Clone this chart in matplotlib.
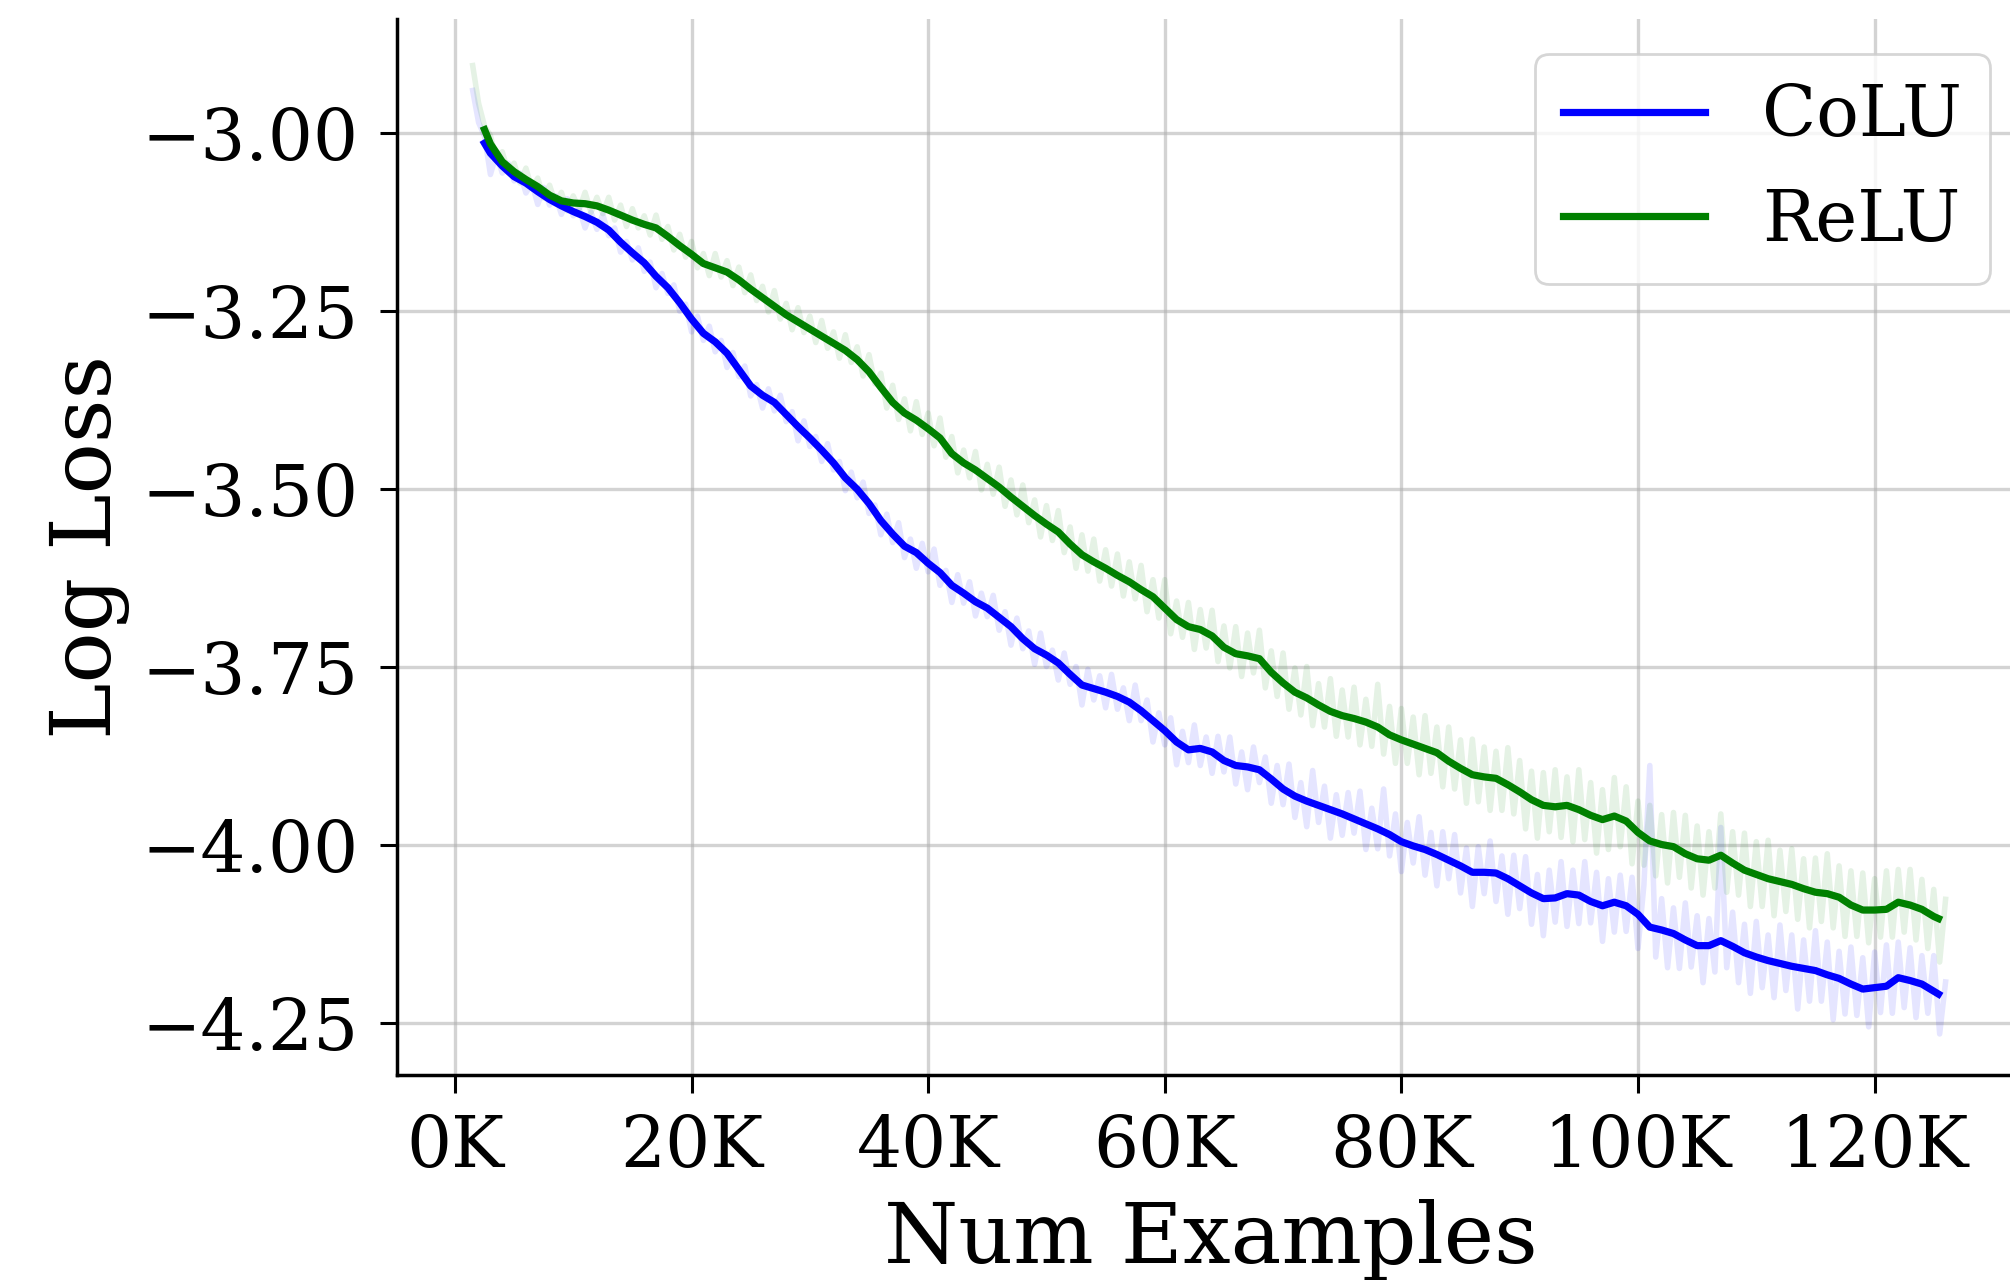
#%%############################################################################
# Log loss vs number of training examples, CoLU vs ReLU
###############################################################################
import matplotlib
matplotlib.use('Agg')
import matplotlib.pyplot as plt
from matplotlib.ticker import FuncFormatter
import numpy as np

#%%############################################################################
# Data
###############################################################################
# smoothed curves, x in thousands of examples
smooth_k = [2.5] + list(range(3, 126)) + [125.4]

colu_smooth = [-3.014,
    -3.028, -3.046, -3.061, -3.070, -3.082, -3.093, -3.102, -3.110, -3.117, -3.125,
    -3.136, -3.153, -3.168, -3.182, -3.201, -3.217, -3.238, -3.261, -3.281, -3.293,
    -3.309, -3.332, -3.355, -3.368, -3.378, -3.395, -3.412, -3.428, -3.445, -3.463,
    -3.484, -3.500, -3.520, -3.544, -3.563, -3.580, -3.589, -3.604, -3.617, -3.635,
    -3.646, -3.658, -3.667, -3.680, -3.693, -3.710, -3.724, -3.733, -3.744, -3.760,
    -3.775, -3.780, -3.785, -3.791, -3.799, -3.811, -3.825, -3.839, -3.855, -3.866,
    -3.864, -3.869, -3.881, -3.888, -3.890, -3.894, -3.907, -3.921, -3.931, -3.938,
    -3.944, -3.950, -3.956, -3.963, -3.970, -3.977, -3.985, -3.995, -4.001, -4.006,
    -4.013, -4.021, -4.029, -4.038, -4.038, -4.039, -4.047, -4.057, -4.067, -4.075,
    -4.074, -4.068, -4.070, -4.079, -4.085, -4.080, -4.085, -4.097, -4.115, -4.119,
    -4.124, -4.133, -4.141, -4.141, -4.134, -4.142, -4.151, -4.157, -4.162, -4.166,
    -4.170, -4.173, -4.176, -4.182, -4.187, -4.195, -4.202, -4.200, -4.198, -4.186,
    -4.190, -4.195, -4.205,
    -4.209]

relu_smooth = [-2.995,
    -3.015, -3.040, -3.054, -3.065, -3.075, -3.087, -3.095, -3.098, -3.099, -3.102,
    -3.108, -3.115, -3.122, -3.128, -3.133, -3.145, -3.158, -3.170, -3.183, -3.189,
    -3.195, -3.206, -3.219, -3.231, -3.243, -3.255, -3.265, -3.275, -3.285, -3.295,
    -3.305, -3.318, -3.335, -3.357, -3.378, -3.393, -3.403, -3.415, -3.428, -3.450,
    -3.463, -3.473, -3.485, -3.497, -3.511, -3.524, -3.537, -3.549, -3.560, -3.577,
    -3.592, -3.602, -3.611, -3.621, -3.630, -3.641, -3.651, -3.667, -3.683, -3.693,
    -3.697, -3.706, -3.722, -3.731, -3.734, -3.738, -3.757, -3.772, -3.785, -3.793,
    -3.803, -3.812, -3.818, -3.822, -3.827, -3.834, -3.845, -3.852, -3.858, -3.864,
    -3.870, -3.882, -3.892, -3.901, -3.904, -3.906, -3.915, -3.925, -3.936, -3.944,
    -3.946, -3.944, -3.950, -3.958, -3.964, -3.959, -3.966, -3.982, -3.994, -3.999,
    -4.002, -4.012, -4.019, -4.021, -4.014, -4.025, -4.035, -4.041, -4.047, -4.051,
    -4.055, -4.061, -4.066, -4.068, -4.073, -4.084, -4.091, -4.091, -4.090, -4.080,
    -4.084, -4.090, -4.100,
    -4.103]

# raw (unsmoothed) losses, logged every 500 examples from 1.5K to 126K
raw_k = np.arange(1.5, 126.01, 0.5)

colu_raw = [
    -2.940, -2.985, -3.004, -3.058, -3.029, -3.056, -3.042, -3.067, -3.056, -3.084,
    -3.070, -3.100, -3.076, -3.101, -3.088, -3.114, -3.092, -3.116, -3.106, -3.133,
    -3.111, -3.135, -3.114, -3.144, -3.133, -3.167, -3.152, -3.178, -3.161, -3.194,
    -3.181, -3.217, -3.197, -3.225, -3.213, -3.250, -3.240, -3.279, -3.257, -3.291,
    -3.271, -3.307, -3.291, -3.329, -3.308, -3.342, -3.327, -3.369, -3.353, -3.386,
    -3.359, -3.390, -3.368, -3.405, -3.391, -3.432, -3.404, -3.440, -3.426, -3.461,
    -3.436, -3.473, -3.461, -3.502, -3.476, -3.512, -3.490, -3.534, -3.522, -3.564,
    -3.535, -3.575, -3.547, -3.596, -3.570, -3.611, -3.576, -3.616, -3.584, -3.635,
    -3.614, -3.659, -3.620, -3.660, -3.630, -3.678, -3.646, -3.679, -3.649, -3.698,
    -3.672, -3.719, -3.681, -3.724, -3.699, -3.746, -3.702, -3.749, -3.726, -3.768,
    -3.730, -3.774, -3.749, -3.803, -3.753, -3.796, -3.762, -3.807, -3.760, -3.809,
    -3.779, -3.825, -3.775, -3.825, -3.796, -3.855, -3.814, -3.859, -3.821, -3.887,
    -3.840, -3.884, -3.831, -3.888, -3.848, -3.899, -3.847, -3.897, -3.848, -3.914,
    -3.869, -3.922, -3.862, -3.912, -3.876, -3.941, -3.888, -3.943, -3.886, -3.961,
    -3.912, -3.974, -3.895, -3.968, -3.917, -3.990, -3.929, -3.986, -3.926, -3.983,
    -3.924, -4.006, -3.948, -4.005, -3.921, -4.015, -3.956, -4.037, -3.968, -4.025,
    -3.960, -4.042, -3.982, -4.057, -3.981, -4.047, -3.985, -4.067, -4.004, -4.086,
    -4.002, -4.068, -3.994, -4.079, -4.015, -4.097, -4.014, -4.089, -4.016, -4.111,
    -4.041, -4.127, -4.035, -4.108, -4.023, -4.114, -4.035, -4.110, -4.023, -4.109,
    -4.038, -4.135, -4.047, -4.122, -4.042, -4.121, -4.045, -4.145, -4.056, -3.888,
    -4.157, -4.075, -4.172, -4.088, -4.173, -4.081, -4.171, -4.099, -4.193, -4.103,
    -4.178, -3.975, -4.172, -4.094, -4.193, -4.111, -4.208, -4.107, -4.200, -4.126,
    -4.214, -4.112, -4.204, -4.126, -4.230, -4.133, -4.219, -4.120, -4.219, -4.136,
    -4.245, -4.149, -4.237, -4.143, -4.239, -4.158, -4.255, -4.150, -4.235, -4.140,
    -4.236, -4.136, -4.228, -4.144, -4.242, -4.155, -4.236, -4.155, -4.265, -4.192]

relu_raw = [
    -2.905, -2.958, -2.990, -3.003, -3.038, -3.026, -3.055, -3.042, -3.070, -3.049,
    -3.078, -3.063, -3.091, -3.073, -3.099, -3.083, -3.109, -3.088, -3.107, -3.083,
    -3.111, -3.090, -3.113, -3.090, -3.122, -3.101, -3.131, -3.106, -3.133, -3.116,
    -3.143, -3.115, -3.149, -3.131, -3.164, -3.142, -3.174, -3.152, -3.189, -3.169,
    -3.200, -3.169, -3.202, -3.179, -3.214, -3.188, -3.224, -3.199, -3.235, -3.215,
    -3.251, -3.221, -3.261, -3.239, -3.276, -3.245, -3.280, -3.257, -3.294, -3.263,
    -3.302, -3.279, -3.316, -3.283, -3.322, -3.300, -3.341, -3.311, -3.352, -3.337,
    -3.386, -3.354, -3.402, -3.373, -3.418, -3.377, -3.423, -3.393, -3.439, -3.400,
    -3.455, -3.426, -3.477, -3.445, -3.484, -3.447, -3.501, -3.465, -3.507, -3.469,
    -3.524, -3.487, -3.536, -3.494, -3.547, -3.515, -3.567, -3.523, -3.572, -3.530,
    -3.589, -3.553, -3.611, -3.564, -3.615, -3.570, -3.629, -3.585, -3.636, -3.591,
    -3.650, -3.602, -3.654, -3.607, -3.672, -3.627, -3.681, -3.627, -3.703, -3.657,
    -3.708, -3.659, -3.725, -3.669, -3.723, -3.670, -3.742, -3.692, -3.751, -3.693,
    -3.763, -3.702, -3.758, -3.698, -3.779, -3.727, -3.791, -3.730, -3.809, -3.751,
    -3.817, -3.749, -3.832, -3.773, -3.834, -3.766, -3.847, -3.782, -3.848, -3.778,
    -3.859, -3.795, -3.861, -3.774, -3.872, -3.805, -3.885, -3.808, -3.885, -3.820,
    -3.901, -3.818, -3.899, -3.834, -3.918, -3.834, -3.921, -3.852, -3.941, -3.851,
    -3.939, -3.862, -3.951, -3.868, -3.951, -3.863, -3.956, -3.881, -3.977, -3.896,
    -3.990, -3.898, -3.981, -3.894, -3.989, -3.904, -3.995, -3.894, -3.992, -3.912,
    -4.011, -3.922, -4.006, -3.905, -4.002, -3.918, -4.026, -3.938, -4.028, -3.944,
    -4.043, -3.957, -4.053, -3.954, -4.045, -3.958, -4.060, -3.973, -4.070, -3.981,
    -4.060, -3.956, -4.066, -3.981, -4.070, -3.983, -4.086, -3.995, -4.086, -3.993,
    -4.099, -4.007, -4.093, -4.005, -4.104, -4.019, -4.116, -4.018, -4.107, -4.012,
    -4.116, -4.029, -4.128, -4.036, -4.128, -4.039, -4.137, -4.047, -4.129, -4.036,
    -4.129, -4.034, -4.122, -4.034, -4.133, -4.048, -4.145, -4.062, -4.164, -4.076]

series_names = ['CoLU', 'ReLU']
series_colors = ['blue', 'green']
x_ticks = [0, 20000, 40000, 60000, 80000, 100000, 120000]
y_ticks = [-3.00, -3.25, -3.50, -3.75, -4.00, -4.25]

#%%############################################################################
# Plot
###############################################################################
plt.rcParams['font.family'] = 'DejaVu Serif'

fig = plt.figure(figsize=(10.05, 6.4), dpi=200)
# axes runs a little past the right edge of the figure, as in the original
ax = fig.add_axes([0.1975, 0.1602, 0.81, 0.825])

smoothX = np.array(smooth_k) * 1000
rawX = raw_k * 1000
raws = [colu_raw, relu_raw]
smooths = [colu_smooth, relu_smooth]

# faint raw curves first, smoothed curves on top
for raw, col in zip(raws, series_colors):
    ax.plot(rawX, raw, color=col, alpha=0.1, lw=2.0)
handles = []
for sm, col, name in zip(smooths, series_colors, series_names):
    h, = ax.plot(smoothX, sm, color=col, lw=2.6, label=name)
    handles.append(h)

ax.set_xlim(-4900, 132720)
ax.set_ylim(-4.3226, -2.8395)
ax.set_xticks(x_ticks)
ax.set_yticks(y_ticks)
ax.xaxis.set_major_formatter(FuncFormatter(lambda v, p: '%dK' % round(v / 1000)))

ax.grid(True, color='#b0b0b0', alpha=0.55, lw=1.2)
ax.set_axisbelow(True)
for side in ['top', 'right']:
    ax.spines[side].set_visible(False)
for side in ['left', 'bottom']:
    ax.spines[side].set_linewidth(1.25)
ax.tick_params(axis='both', labelsize=25.5, length=6.3, width=1.1, pad=7.5)

ax.set_xlabel('Num Examples', fontsize=30.6, labelpad=6)
ax.set_ylabel('Log Loss', fontsize=30.6, labelpad=4)

ax.legend(handles=handles, fontsize=25.5, loc='upper right',
          bbox_to_anchor=(1990 / 2010, 1 - 54 / 1280),
          bbox_transform=fig.transFigure, borderaxespad=0,
          framealpha=0.8, edgecolor='0.8')

fig.savefig('out.png', dpi=200)
